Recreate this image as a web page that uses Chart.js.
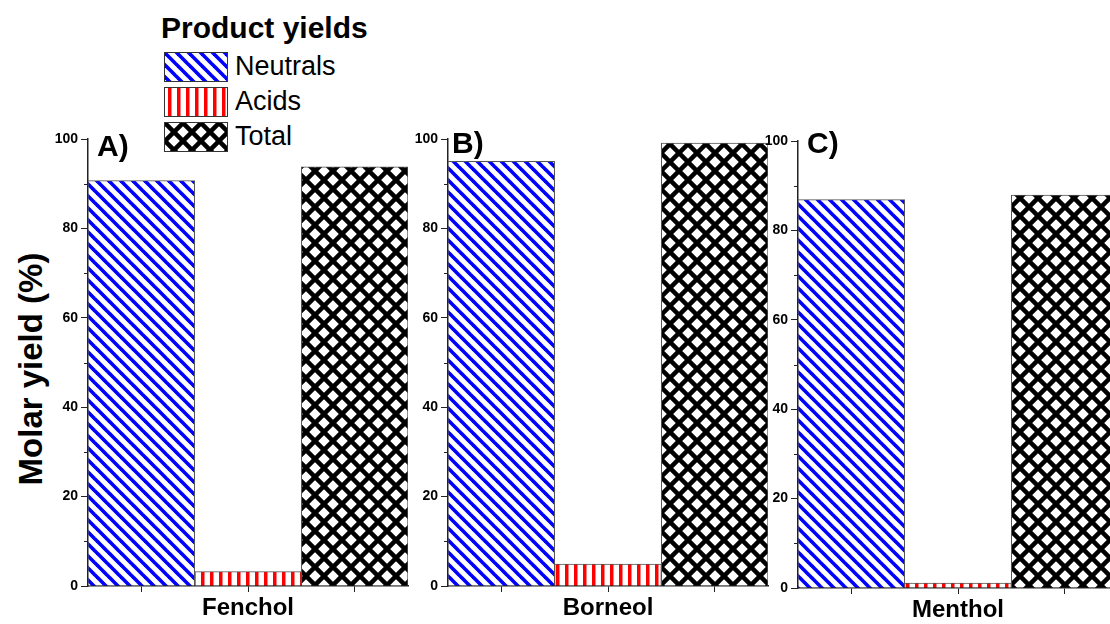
<!DOCTYPE html>
<html>
<head>
<meta charset="utf-8">
<script src="https://cdn.jsdelivr.net/npm/chart.js@4.4.1/dist/chart.umd.min.js"></script>
<style>
  html, body { margin: 0; padding: 0; background: #fff; }
  body { width: 1110px; height: 624px; overflow: hidden; position: relative;
         font-family: 'Liberation Sans', Arial, sans-serif; }
  canvas.panel { position: absolute; top: 0; }
  .txt { position: absolute; line-height: 1; white-space: nowrap; color: #000; }
  .swatch { position: absolute; left: 164px; border: 1px solid #333; }
</style>
</head>
<body>

<div class="txt" style="left:161px;top:13px;font-size:30px;font-weight:bold;">Product yields</div>
<canvas class="swatch" id="swN" width="62" height="28" style="top:52px"></canvas>
<canvas class="swatch" id="swA" width="62" height="28" style="top:87px"></canvas>
<canvas class="swatch" id="swT" width="62" height="28" style="top:122px"></canvas>
<div class="txt" style="left:235px;top:53px;font-size:27px;">Neutrals</div>
<div class="txt" style="left:235px;top:88px;font-size:27px;">Acids</div>
<div class="txt" style="left:235px;top:123px;font-size:27px;">Total</div>

<div class="txt" style="left:30px;top:369px;font-size:33px;font-weight:bold;transform:translate(-50%,-50%) rotate(-90deg);">Molar yield (%)</div>

<canvas class="panel" id="chartA" width="410" height="624" style="left:0px"></canvas>
<canvas class="panel" id="chartB" width="370" height="624" style="left:400px"></canvas>
<canvas class="panel" id="chartC" width="370" height="624" style="left:750px"></canvas>

<div class="txt" style="left:97px;top:131px;font-size:30px;font-weight:bold;">A)</div>
<div class="txt" style="left:452px;top:128px;font-size:30px;font-weight:bold;">B)</div>
<div class="txt" style="left:807px;top:128px;font-size:30px;font-weight:bold;">C)</div>

<script>
// data
const categories = ['Fenchol', 'Borneol', 'Menthol'];
const seriesNames = ['Neutrals', 'Acids', 'Total'];
const neutrals = [90.7, 95.0, 86.9];
const acids = [3.2, 4.9, 1.1];
const totals = [93.8, 99.1, 87.9];
const yMajorTicks = [0, 20, 40, 60, 80, 100];
const yMinorTicks = [10, 30, 50, 70, 90];

Chart.defaults.font.family = "'Liberation Sans', Arial, sans-serif";
Chart.defaults.color = '#000';

function makePattern(kind) {
  const c = document.createElement('canvas');
  const ctx = c.getContext('2d');
  if (kind === 'neutrals') {
    c.width = c.height = 12;
    ctx.fillStyle = '#fff'; ctx.fillRect(0, 0, 12, 12);
    ctx.strokeStyle = '#0000ff'; ctx.lineWidth = 3.6;
    [-12, 0, 12].forEach(o => {
      ctx.beginPath(); ctx.moveTo(o - 2, -2); ctx.lineTo(o + 14, 14); ctx.stroke();
    });
  } else if (kind === 'acids') {
    c.width = 9; c.height = 9;
    ctx.fillStyle = '#fff'; ctx.fillRect(0, 0, 9, 9);
    ctx.fillStyle = '#ff0000'; ctx.fillRect(3, 0, 3.5, 9);
  } else {
    c.width = c.height = 18;
    ctx.fillStyle = '#fff'; ctx.fillRect(0, 0, 18, 18);
    ctx.strokeStyle = '#000'; ctx.lineWidth = 4.5;
    [-18, 0, 18].forEach(o => {
      ctx.beginPath(); ctx.moveTo(o - 2, -2); ctx.lineTo(o + 20, 20); ctx.stroke();
      ctx.beginPath(); ctx.moveTo(o - 2, 20); ctx.lineTo(o + 20, -2); ctx.stroke();
    });
  }
  return ctx.createPattern(c, 'repeat');
}

const patterns = [makePattern('neutrals'), makePattern('acids'), makePattern('total')];

// legend swatches
['swN', 'swA', 'swT'].forEach((id, i) => {
  const ctx = document.getElementById(id).getContext('2d');
  ctx.fillStyle = patterns[i];
  ctx.fillRect(0, 0, 62, 28);
});

// short minor ticks on the y axis
const minorTickPlugin = {
  id: 'minorTicks',
  afterDraw(chart) {
    const s = chart.scales.y, ctx = chart.ctx;
    ctx.save();
    ctx.strokeStyle = '#222';
    ctx.lineWidth = 1;
    yMinorTicks.forEach(v => {
      const y = Math.round(s.getPixelForValue(v)) + 0.5;
      ctx.beginPath(); ctx.moveTo(s.right, y); ctx.lineTo(s.right - 4, y); ctx.stroke();
    });
    ctx.restore();
  }
};

const panels = [
  { id: 'chartA', yWidth: 88, xHeight: 38, top: 139, titlePad: 3.5 },
  { id: 'chartB', yWidth: 48, xHeight: 38, top: 139, titlePad: 4 },
  { id: 'chartC', yWidth: 48, xHeight: 36, top: 141, titlePad: 2 }
];

panels.forEach((p, i) => {
  new Chart(document.getElementById(p.id), {
    type: 'bar',
    data: {
      labels: seriesNames,
      datasets: [{
        label: categories[i],
        data: [neutrals[i], acids[i], totals[i]],
        backgroundColor: patterns,
        borderColor: '#555',
        borderWidth: 1,
        categoryPercentage: 1,
        barPercentage: 1
      }]
    },
    options: {
      responsive: false,
      animation: false,
      layout: { padding: { top: p.top, right: 2, left: 0, bottom: 0 } },
      plugins: { legend: { display: false }, tooltip: { enabled: false } },
      scales: {
        x: {
          offset: true,
          afterFit: s => { s.height = p.xHeight; },
          grid: { offset: false, drawOnChartArea: false, drawTicks: true, tickLength: 6, color: '#222' },
          border: { color: '#222', width: 1.5 },
          ticks: { display: false },
          title: {
            display: true,
            text: categories[i],
            font: { size: 24, weight: 'bold', lineHeight: 1 },
            padding: { top: 0, bottom: p.titlePad }
          }
        },
        y: {
          min: 0,
          max: 100,
          afterFit: s => { s.width = p.yWidth; },
          afterBuildTicks: s => { s.ticks = yMajorTicks.map(v => ({ value: v })); },
          grid: { drawOnChartArea: false, drawTicks: true, tickLength: 7, color: '#222' },
          border: { color: '#222', width: 1.5 },
          ticks: { font: { size: 14, weight: 'bold' }, padding: 3 }
        }
      }
    },
    plugins: [minorTickPlugin]
  });
});
</script>
</body>
</html>
